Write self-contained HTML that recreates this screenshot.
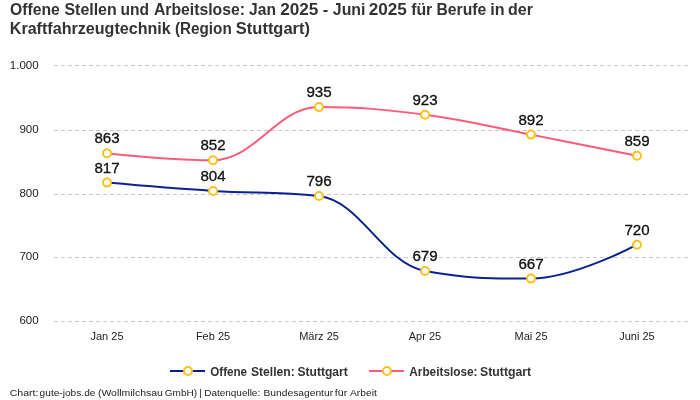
<!DOCTYPE html>
<html><head><meta charset="utf-8"><style>
html,body{margin:0;padding:0;background:#fff;width:700px;height:400px;overflow:hidden}
svg{display:block;will-change:transform}
text{font-family:"Liberation Sans", sans-serif}
.t{font-weight:bold;font-size:16px;fill:#333}
.yl{font-size:11.5px;fill:#222}
.xl{font-size:11px;fill:#222}
.dl{font-size:14px;fill:#111;stroke:#111;stroke-width:0.3px}
.lg{font-weight:bold;font-size:13px;fill:#333}
.ft{font-size:9.5px;fill:#222}
</style></head><body>
<svg width="700" height="400" viewBox="0 0 700 400">
<rect width="700" height="400" fill="#fff"/>
<text x="10.09" y="14.6" class="t" textLength="49.75" lengthAdjust="spacingAndGlyphs">Offene</text>
<text x="64.50" y="14.6" class="t" textLength="52.16" lengthAdjust="spacingAndGlyphs">Stellen</text>
<text x="120.43" y="14.6" class="t" textLength="28.52" lengthAdjust="spacingAndGlyphs">und</text>
<text x="153.93" y="14.6" class="t" textLength="91.12" lengthAdjust="spacingAndGlyphs">Arbeitslose:</text>
<text x="249.06" y="14.6" class="t" textLength="26.87" lengthAdjust="spacingAndGlyphs">Jan</text>
<text x="280.16" y="14.6" class="t" textLength="38.24" lengthAdjust="spacingAndGlyphs">2025</text>
<text x="322.66" y="14.6" class="t" textLength="5.46" lengthAdjust="spacingAndGlyphs">-</text>
<text x="332.85" y="14.6" class="t" textLength="32.58" lengthAdjust="spacingAndGlyphs">Juni</text>
<text x="368.76" y="14.6" class="t" textLength="38.14" lengthAdjust="spacingAndGlyphs">2025</text>
<text x="411.15" y="14.6" class="t" textLength="21.15" lengthAdjust="spacingAndGlyphs">für</text>
<text x="436.50" y="14.6" class="t" textLength="49.76" lengthAdjust="spacingAndGlyphs">Berufe</text>
<text x="490.27" y="14.6" class="t" textLength="14.31" lengthAdjust="spacingAndGlyphs">in</text>
<text x="507.98" y="14.6" class="t" textLength="24.91" lengthAdjust="spacingAndGlyphs">der</text>
<text x="9.77" y="33.9" class="t" textLength="160.96" lengthAdjust="spacingAndGlyphs">Kraftfahrzeugtechnik</text>
<text x="174.99" y="33.9" class="t" textLength="56.71" lengthAdjust="spacingAndGlyphs">(Region</text>
<text x="235.89" y="33.9" class="t" textLength="74.10" lengthAdjust="spacingAndGlyphs">Stuttgart)</text>

<line x1="54" y1="65.5" x2="690" y2="65.5" stroke="#c8c8c8" stroke-width="1" stroke-dasharray="4 3"/>
<text x="38.6" y="68.8" text-anchor="end" class="yl">1.000</text>
<line x1="54" y1="130.5" x2="690" y2="130.5" stroke="#c8c8c8" stroke-width="1" stroke-dasharray="4 3"/>
<text x="38.6" y="132.8" text-anchor="end" class="yl">900</text>
<line x1="54" y1="194.5" x2="690" y2="194.5" stroke="#c8c8c8" stroke-width="1" stroke-dasharray="4 3"/>
<text x="38.6" y="196.9" text-anchor="end" class="yl">800</text>
<line x1="54" y1="257.5" x2="690" y2="257.5" stroke="#c8c8c8" stroke-width="1" stroke-dasharray="4 3"/>
<text x="38.6" y="259.8" text-anchor="end" class="yl">700</text>
<line x1="54" y1="321.5" x2="690" y2="321.5" stroke="#c8c8c8" stroke-width="1" stroke-dasharray="4 3"/>
<text x="38.6" y="323.8" text-anchor="end" class="yl">600</text>
<text x="107" y="340" text-anchor="middle" class="xl">Jan 25</text>
<text x="213" y="340" text-anchor="middle" class="xl">Feb 25</text>
<text x="319" y="340" text-anchor="middle" class="xl">März 25</text>
<text x="425" y="340" text-anchor="middle" class="xl">Apr 25</text>
<text x="531" y="340" text-anchor="middle" class="xl">Mai 25</text>
<text x="637" y="340" text-anchor="middle" class="xl">Juni 25</text>

<path d="M107.00,153.18 C107.00,153.18 170.60,160.22 213.00,160.22 C255.40,160.22 276.60,107.10 319.00,107.10 C361.40,107.10 382.60,109.28 425.00,114.78 C467.40,120.28 488.60,126.43 531.00,134.62 C573.40,142.81 637.00,155.74 637.00,155.74" fill="none" stroke="#fd5b7b" stroke-width="2"/>
<path d="M107.00,182.62 C107.00,182.62 170.60,188.25 213.00,190.94 C255.40,193.63 276.60,190.94 319.00,196.06 C361.40,201.18 382.60,263.26 425.00,270.94 C467.40,278.62 488.60,278.62 531.00,278.62 C573.40,278.62 637.00,244.70 637.00,244.70" fill="none" stroke="#0a2290" stroke-width="2"/>
<circle cx="107" cy="182.62" r="4" fill="#fff" stroke="#fec01a" stroke-width="2"/>
<circle cx="213" cy="190.94" r="4" fill="#fff" stroke="#fec01a" stroke-width="2"/>
<circle cx="319" cy="196.06" r="4" fill="#fff" stroke="#fec01a" stroke-width="2"/>
<circle cx="425" cy="270.94" r="4" fill="#fff" stroke="#fec01a" stroke-width="2"/>
<circle cx="531" cy="278.62" r="4" fill="#fff" stroke="#fec01a" stroke-width="2"/>
<circle cx="637" cy="244.70" r="4" fill="#fff" stroke="#fec01a" stroke-width="2"/>
<circle cx="107" cy="153.18" r="4" fill="#fff" stroke="#fec01a" stroke-width="2"/>
<circle cx="213" cy="160.22" r="4" fill="#fff" stroke="#fec01a" stroke-width="2"/>
<circle cx="319" cy="107.10" r="4" fill="#fff" stroke="#fec01a" stroke-width="2"/>
<circle cx="425" cy="114.78" r="4" fill="#fff" stroke="#fec01a" stroke-width="2"/>
<circle cx="531" cy="134.62" r="4" fill="#fff" stroke="#fec01a" stroke-width="2"/>
<circle cx="637" cy="155.74" r="4" fill="#fff" stroke="#fec01a" stroke-width="2"/>
<text x="107" y="172.72" text-anchor="middle" class="dl" textLength="25.2" lengthAdjust="spacingAndGlyphs">817</text>
<text x="213" y="181.04" text-anchor="middle" class="dl" textLength="25.2" lengthAdjust="spacingAndGlyphs">804</text>
<text x="319" y="186.16" text-anchor="middle" class="dl" textLength="25.2" lengthAdjust="spacingAndGlyphs">796</text>
<text x="425" y="261.04" text-anchor="middle" class="dl" textLength="25.2" lengthAdjust="spacingAndGlyphs">679</text>
<text x="531" y="268.72" text-anchor="middle" class="dl" textLength="25.2" lengthAdjust="spacingAndGlyphs">667</text>
<text x="637" y="234.80" text-anchor="middle" class="dl" textLength="25.2" lengthAdjust="spacingAndGlyphs">720</text>
<text x="107" y="143.28" text-anchor="middle" class="dl" textLength="25.2" lengthAdjust="spacingAndGlyphs">863</text>
<text x="213" y="150.32" text-anchor="middle" class="dl" textLength="25.2" lengthAdjust="spacingAndGlyphs">852</text>
<text x="319" y="97.20" text-anchor="middle" class="dl" textLength="25.2" lengthAdjust="spacingAndGlyphs">935</text>
<text x="425" y="104.88" text-anchor="middle" class="dl" textLength="25.2" lengthAdjust="spacingAndGlyphs">923</text>
<text x="531" y="124.72" text-anchor="middle" class="dl" textLength="25.2" lengthAdjust="spacingAndGlyphs">892</text>
<text x="637" y="145.84" text-anchor="middle" class="dl" textLength="25.2" lengthAdjust="spacingAndGlyphs">859</text>

<line x1="170" y1="371" x2="205" y2="371" stroke="#0a2290" stroke-width="2"/>
<circle cx="188" cy="371" r="4" fill="#fff" stroke="#fec01a" stroke-width="2"/>

<line x1="369" y1="371" x2="404" y2="371" stroke="#fd5b7b" stroke-width="2"/>
<circle cx="387" cy="371" r="4" fill="#fff" stroke="#fec01a" stroke-width="2"/>
<text x="210.25" y="375.5" class="lg" textLength="36.82" lengthAdjust="spacingAndGlyphs">Offene</text>
<text x="250.95" y="375.5" class="lg" textLength="43.79" lengthAdjust="spacingAndGlyphs">Stellen:</text>
<text x="297.45" y="375.5" class="lg" textLength="50.41" lengthAdjust="spacingAndGlyphs">Stuttgart</text>
<text x="409.26" y="375.5" class="lg" textLength="68.29" lengthAdjust="spacingAndGlyphs">Arbeitslose:</text>
<text x="480.05" y="375.5" class="lg" textLength="51.12" lengthAdjust="spacingAndGlyphs">Stuttgart</text>

<text x="9.75" y="396.4" class="ft" textLength="28.62" lengthAdjust="spacingAndGlyphs">Chart:</text>
<text x="39.60" y="396.4" class="ft" textLength="55.85" lengthAdjust="spacingAndGlyphs">gute-jobs.de</text>
<text x="97.91" y="396.4" class="ft" textLength="64.96" lengthAdjust="spacingAndGlyphs">(Wollmilchsau</text>
<text x="164.87" y="396.4" class="ft" textLength="32.18" lengthAdjust="spacingAndGlyphs">GmbH)</text>
<text x="199.25" y="396.4" class="ft" textLength="2.47" lengthAdjust="spacingAndGlyphs">|</text>
<text x="204.21" y="396.4" class="ft" textLength="55.99" lengthAdjust="spacingAndGlyphs">Datenquelle:</text>
<text x="263.49" y="396.4" class="ft" textLength="69.63" lengthAdjust="spacingAndGlyphs">Bundesagentur</text>
<text x="334.86" y="396.4" class="ft" textLength="12.34" lengthAdjust="spacingAndGlyphs">für</text>
<text x="350.00" y="396.4" class="ft" textLength="26.78" lengthAdjust="spacingAndGlyphs">Arbeit</text>

</svg>
</body></html>
